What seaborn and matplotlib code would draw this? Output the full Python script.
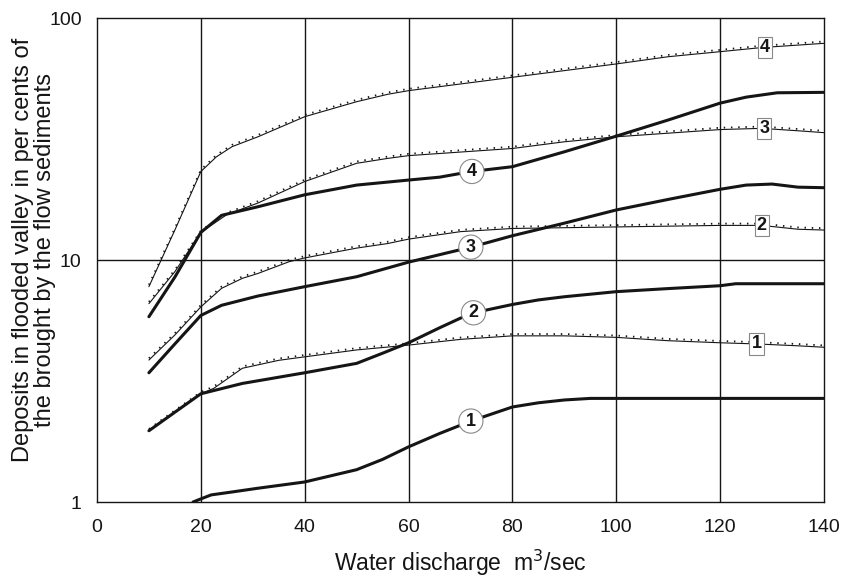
import numpy as np
import pandas as pd
import seaborn as sns
import matplotlib
matplotlib.use('Agg')
import matplotlib.pyplot as plt
import matplotlib.transforms as mtransforms

# thick curves (circle labels)
thick1_x = [18.5, 20, 22, 26, 31, 40, 50, 55, 60, 66, 72, 80, 85, 90, 95, 100, 110, 120, 130, 140]
thick1_y = [1.0, 1.03, 1.07, 1.1, 1.14, 1.21, 1.36, 1.5, 1.69, 1.92, 2.16, 2.47, 2.57, 2.64, 2.68, 2.68, 2.68, 2.68, 2.68, 2.68]
thick2_x = [10, 15, 20, 28, 40, 50, 55, 60, 66, 72, 80, 85, 90, 100, 110, 120, 123, 130, 140]
thick2_y = [1.97, 2.35, 2.8, 3.09, 3.42, 3.74, 4.12, 4.55, 5.25, 6.02, 6.55, 6.84, 7.05, 7.4, 7.62, 7.83, 7.98, 7.98, 7.98]
thick3_x = [10, 15, 20, 24, 31, 40, 50, 60, 72, 80, 90, 100, 110, 120, 125, 130, 135, 140]
thick3_y = [3.42, 4.5, 5.9, 6.5, 7.1, 7.76, 8.53, 9.8, 11.3, 12.6, 14.2, 16.1, 17.8, 19.6, 20.4, 20.6, 20.0, 19.9]
thick4_x = [10, 15, 20, 24, 31, 40, 50, 60, 66, 72, 80, 90, 100, 110, 120, 125, 131, 140]
thick4_y = [5.83, 8.5, 13.0, 15.3, 16.6, 18.6, 20.4, 21.4, 22.0, 23.2, 24.3, 28.0, 32.5, 37.9, 44.5, 47.1, 49.1, 49.3]

# thin curves (square labels), each with a dotted twin
thin1_x = [10, 15, 20, 22.5, 28, 35, 40, 50, 60, 70, 80, 90, 100, 110, 120, 127, 135, 140]
thin1_y = [1.97, 2.35, 2.8, 2.95, 3.57, 3.85, 3.98, 4.25, 4.45, 4.7, 4.86, 4.86, 4.79, 4.64, 4.55, 4.5, 4.42, 4.36]
thin2_x = [10, 15, 20, 24, 28, 31, 37, 40, 50, 56, 60, 70, 80, 100, 120, 128, 135, 140]
thin2_y = [3.86, 4.9, 6.4, 7.64, 8.4, 8.8, 9.84, 10.2, 11.2, 11.7, 12.2, 13.1, 13.5, 13.7, 13.9, 13.9, 13.4, 13.3]
thin3_x = [10, 15, 20, 25, 31, 40, 50, 56, 60, 80, 90, 100, 120, 128, 135, 140]
thin3_y = [6.6, 8.95, 13.0, 15.4, 17.2, 21.1, 25.1, 26.3, 27.0, 28.9, 30.8, 32.3, 34.6, 35.0, 34.2, 33.6]
thin4_x = [10, 15, 20, 23, 26, 31, 40, 50, 56, 60, 80, 100, 110, 120, 128, 140]
thin4_y = [7.76, 13.3, 23.2, 26.7, 29.4, 32.3, 39.1, 45.1, 48.4, 50.1, 56.9, 64.6, 69.2, 72.6, 75.5, 78.6]

thick_curves = [(thick1_x, thick1_y), (thick2_x, thick2_y), (thick3_x, thick3_y), (thick4_x, thick4_y)]
thin_curves = [(thin1_x, thin1_y), (thin2_x, thin2_y), (thin3_x, thin3_y), (thin4_x, thin4_y)]
curve_names = ['1', '2', '3', '4']
circle_label_x = [72, 72.5, 72, 72.2]
box_label_x = [127, 128, 128.5, 128.6]

x_ticks = [0, 20, 40, 60, 80, 100, 120, 140]
y_ticks = [1, 10, 100]


def interp_log(xs, ys, x0):
    return 10 ** np.interp(x0, xs, np.log10(ys))


sns.set_theme(style='white')
plt.rcParams['font.family'] = ['Liberation Sans', 'DejaVu Sans']

fig = plt.figure(figsize=(8.44, 5.87), dpi=100)
ax = fig.add_axes([0.1149, 0.1448, 0.8614, 0.8245])
ink = '#151515'

for xs, ys in thin_curves:
    df = pd.DataFrame({'x': xs, 'y': ys})
    sns.lineplot(data=df, x='x', y='y', ax=ax, color=ink, linewidth=0.8,
                 estimator=None, sort=False, zorder=3)
    dotted = mtransforms.offset_copy(ax.transData, fig=fig, x=0, y=1.3, units='points')
    ax.plot(xs, ys, color=ink, linewidth=1.3, linestyle=(0, (0.8, 3.2)),
            transform=dotted, zorder=3)

for xs, ys in thick_curves:
    df = pd.DataFrame({'x': xs, 'y': ys})
    sns.lineplot(data=df, x='x', y='y', ax=ax, color=ink, linewidth=2.2,
                 estimator=None, sort=False, zorder=4)

ax.set_yscale('log')
ax.set_xlim(0, 140)
ax.set_ylim(1, 100)
ax.set_xticks(x_ticks)
ax.set_xticklabels([str(t) for t in x_ticks])
ax.set_yticks(y_ticks)
ax.set_yticklabels([str(t) for t in y_ticks])
ax.yaxis.set_minor_locator(matplotlib.ticker.NullLocator())
ax.tick_params(axis='both', length=0, labelsize=14, colors=ink, pad=12)
ax.tick_params(axis='y', pad=11)

for v in x_ticks[1:-1]:
    ax.axvline(v, color=ink, linewidth=1.0, zorder=1)
ax.axhline(10, color=ink, linewidth=1.0, zorder=1)
for s in ax.spines.values():
    s.set_color(ink)
    s.set_linewidth(1.0)

for (xs, ys), name, lx in zip(thick_curves, curve_names, circle_label_x):
    ax.text(lx, interp_log(xs, ys, lx), name, ha='center', va='center', fontsize=13,
            fontweight='bold', color=ink, zorder=6,
            bbox=dict(boxstyle='circle,pad=0.2', facecolor='white', edgecolor='#888888', linewidth=0.8))

for (xs, ys), name, lx in zip(thin_curves, curve_names, box_label_x):
    ax.text(lx, interp_log(xs, ys, lx), name, ha='center', va='center', fontsize=13,
            fontweight='bold', color=ink, zorder=6,
            bbox=dict(boxstyle='square,pad=0.12', facecolor='white', edgecolor='#888888', linewidth=0.8))

ax.set_xlabel('Water discharge  m$^3$/sec', fontsize=16.5, color=ink, labelpad=9)
ax.set_ylabel('Deposits in flooded valley in per cents of\nthe brought by the flow sediments',
              fontsize=17, color=ink, linespacing=1.0)
ax.yaxis.set_label_coords(-0.056, 0.52)

fig.savefig('out.png', dpi=100)
